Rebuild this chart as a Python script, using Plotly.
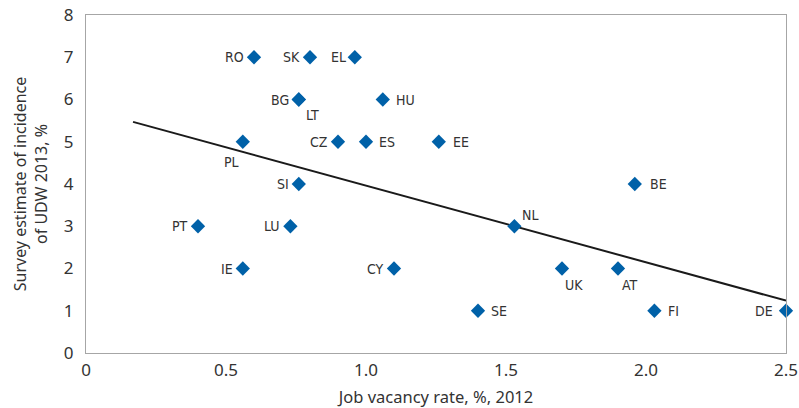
import plotly.graph_objects as go

countries = ["RO", "SK", "EL", "BG", "LT", "HU", "PL", "CZ", "ES", "EE", "SI", "BE",
             "PT", "LU", "NL", "IE", "CY", "UK", "AT", "SE", "FI", "DE"]
vacancy = [0.60, 0.80, 0.96, 0.76, 0.76, 1.06, 0.56, 0.90, 1.00, 1.26, 0.76, 1.96,
           0.40, 0.73, 1.53, 0.56, 1.10, 1.70, 1.90, 1.40, 2.03, 2.50]
udw = [7, 7, 7, 6, 6, 6, 5, 5, 5, 5, 4, 4,
       3, 3, 3, 2, 2, 2, 2, 1, 1, 1]

trend_x = [0.168, 2.50]
trend_y = [5.47, 1.24]

x_ticks = [0, 0.5, 1.0, 1.5, 2.0, 2.5]
x_ticktext = ["0", "0.5", "1.0", "1.5", "2.0", "2.5"]
y_ticks = [0, 1, 2, 3, 4, 5, 6, 7, 8]

# label placement: (xanchor, xshift, yshift)
label_pos = {
    "RO": ("right", -8, 0), "SK": ("right", -8, 0), "EL": ("right", -7, 0),
    "BG": ("right", -8, 0), "LT": ("center", 14, -15), "HU": ("left", 11, 0),
    "PL": ("center", -11, -20), "CZ": ("right", -8, 0), "ES": ("left", 11, 0),
    "EE": ("left", 12, 0), "SI": ("right", -8, 0), "BE": ("left", 13, 0),
    "PT": ("right", -8, 0), "LU": ("right", -8, 0), "NL": ("center", 16, 11),
    "IE": ("right", -8, 0), "CY": ("right", -8, 0), "UK": ("center", 12, -16),
    "AT": ("center", 12, -16), "SE": ("left", 11, 0), "FI": ("left", 12, 0),
    "DE": ("right", -11, 0),
}

fig = go.Figure()
fig.add_trace(go.Scatter(x=trend_x, y=trend_y, mode="lines",
                         line=dict(color="#1a1a1a", width=2), hoverinfo="skip",
                         cliponaxis=False))
fig.add_trace(go.Scatter(x=vacancy, y=udw, mode="markers",
                         marker=dict(symbol="diamond", size=11, color="#0061a8"),
                         text=countries, cliponaxis=False))

for c, xv, yv in zip(countries, vacancy, udw):
    xa, xs, ys = label_pos[c]
    fig.add_annotation(x=xv, y=yv, text=c, showarrow=False, xanchor=xa, yanchor="middle",
                       xshift=xs, yshift=ys,
                       font=dict(family="Liberation Sans Narrow, DejaVu Sans Condensed, sans-serif",
                                 size=14, color="#333333"))

fig.update_layout(
    width=799, height=408,
    margin=dict(l=86, r=13, t=15, b=55),
    plot_bgcolor="white", paper_bgcolor="white",
    showlegend=False,
    font=dict(family="Noto Sans, sans-serif", size=17, color="#333333"),
    xaxis=dict(range=[0, 2.5], tickvals=x_ticks, ticktext=x_ticktext,
               showgrid=False, zeroline=False, showline=True, mirror=True,
               linecolor="#a6a6a6", linewidth=1, ticks="", automargin=False,
               ticklabeloverflow="allow", ticklabelstandoff=2,
               title=dict(text="Job vacancy rate, %, 2012", font=dict(size=16.5), standoff=12)),
    yaxis=dict(range=[0, 8], tickvals=y_ticks,
               showgrid=False, zeroline=False, showline=True, mirror=True,
               linecolor="#a6a6a6", linewidth=1, ticks="", automargin=False,
               ticklabeloverflow="allow", ticklabelstandoff=8,
               title=dict(text="Survey estimate of incidence<br>of UDW 2013, %", font=dict(size=16), standoff=12)),
)

fig.write_html("out.html", config={"displayModeBar": False},
               post_script="document.body.style.margin='0px';")
